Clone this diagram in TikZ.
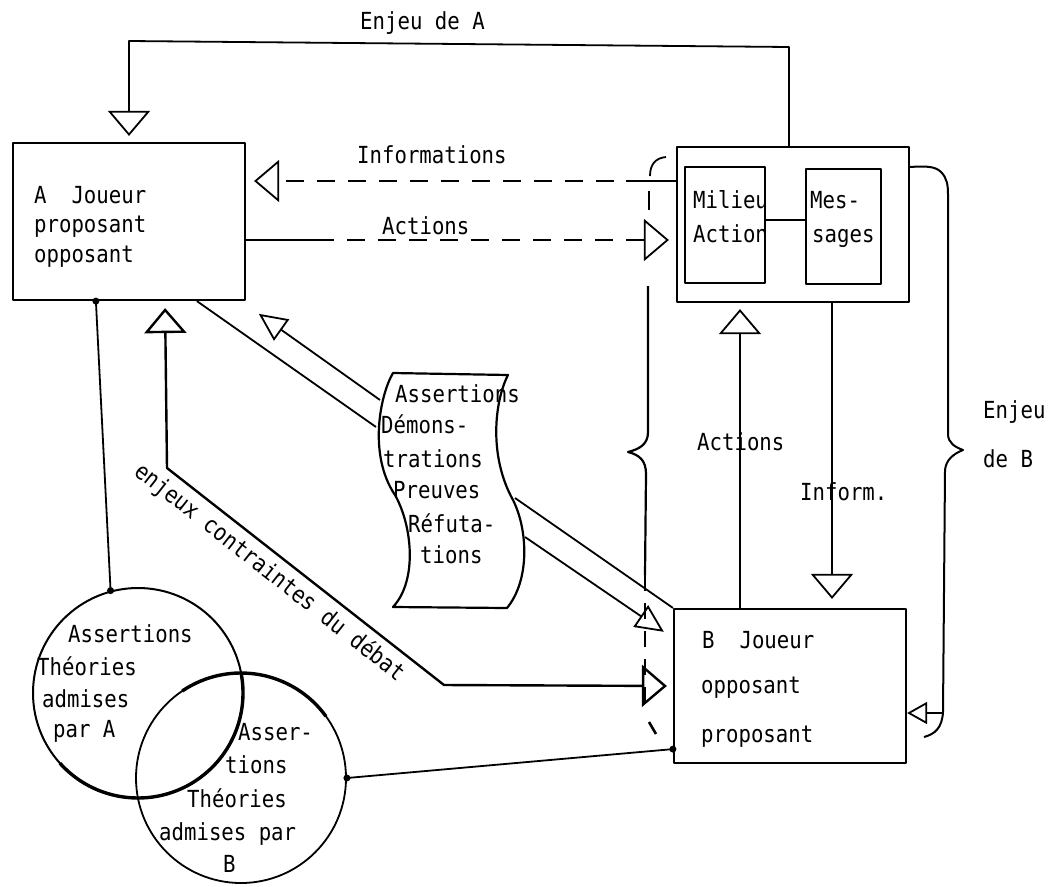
\documentclass[tikz,border=0pt]{standalone}
\usepackage{fontspec}
\newfontfamily\tw[FakeStretch=0.88]{DejaVu Sans Mono}
\usetikzlibrary{arrows.meta,calc}
\tikzset{
  txt/.style={font=\tw\fontsize{23.5}{28}\selectfont, inner sep=0pt, anchor=base west},
  box/.style={draw, line width=2.2pt, inner sep=0pt},
  ln/.style={line width=1.8pt},
  dsh/.style={dash pattern=on 18pt off 13pt},
  bigtip/.style={-{Triangle[open,length=25pt,width=42pt]}},
  smalltip/.style={-{Triangle[open,length=28pt,width=26pt]}},
  tinytip/.style={-{Triangle[open,length=20pt,width=22pt]}},
  dot/.style={circle, fill, inner sep=0pt, minimum size=7pt},
}
\begin{document}
\begin{tikzpicture}[x=1pt,y=-1pt,line join=round]
\fill[white] (0,0) rectangle (1056,886);
\useasboundingbox (0,0) rectangle (1056,886);

% boxes
\node[box, minimum width=232pt, minimum height=157pt] (A) at (129,221.5) {};
\node[box, minimum width=232pt, minimum height=155pt] (M) at (793,224.5) {};
\node[box, line width=2pt, minimum width=80pt, minimum height=116pt] (mil) at (725,225) {};
\node[box, line width=2pt, minimum width=75pt, minimum height=115pt] (mes) at (843.5,226.5) {};
\node[box, minimum width=232pt, minimum height=154pt] (B) at (790,686) {};
\node[draw, circle, line width=2pt, minimum size=210pt, inner sep=0pt] (cA) at (138,693) {};
\node[draw, circle, line width=1.8pt, minimum size=210pt, inner sep=0pt] (cB) at (241,778) {};

% thick lens arcs
\draw[line width=3.4pt] (cA.center) ++(138:105) arc[start angle=138, end angle=-11, radius=105];
\draw[line width=3.4pt] (cB.center) ++(-124:105) arc[start angle=-124, end angle=-36, radius=105];

% helper coordinates
\coordinate (xenA) at (789,0);
\coordinate (yinf) at (0,181);
\coordinate (yact) at (0,240);
\coordinate (ymm) at (0,220);
\coordinate (xact) at (740,0);
\coordinate (xinf) at (832,0);
\coordinate (xenj) at (165,0);
\coordinate (yenj) at (0,686);
\coordinate (yb1) at (0,638);
\coordinate (yrb) at (0,713);

% Enjeu de A
\draw[ln, bigtip, shorten >=6pt] (M.north -| xenA) -- (789,47) -- (129,41) -- (A.north);
\node[txt] (tEA) at (360,29) {Enjeu de A};

% Informations
\draw[ln, dsh, bigtip, shorten >=8pt] (M.west |- yinf) -- (A.east |- yinf);
\draw[ln] (M.west |- yinf) -- ++(-50,0);
\node[txt] (tInf) at (357,163) {Informations};

% Actions (A -> milieu)
\draw[ln] (A.east |- yact) -- ++(70,0) coordinate (actd);
\draw[ln, dsh, bigtip, shorten >=7pt] (actd) -- (M.west |- yact);
\node[txt] (tAct) at (382,234) {Actions};

% Milieu - Messages
\draw[line width=1.5pt] (mil.east |- ymm) -- (mes.west |- ymm);

% Actions (B -> milieu), Inform. (milieu -> B)
\draw[ln, bigtip, shorten >=6pt] (B.north -| xact) -- (M.south -| xact);
\draw[ln, bigtip, shorten >=9pt] (M.south -| xinf) -- (B.north -| xinf);
\node[txt] (tAct2) at (697,450) {Actions};
\node[txt] (tInf2) at (800,500) {Inform.};

% left brace
\draw[ln] (666,157) .. controls (655,158) and (650,165) .. (650,176);
\draw[ln] (649,191) -- (649,210);
\draw[line width=2.2pt] (648,286) -- (648,432) .. controls (648,444) and (640,449) .. (628,452) .. controls (640,455) and (646,461) .. (646,474) -- (645,575);
\draw[ln, dash pattern=on 16pt off 12pt] (645,575) -- (645,712);
\draw[line width=2.6pt] (649,722) -- (656,734);

% right brace
\draw[line width=2pt] (M.north east |- 0,167) .. controls (925,166) and (935,166) .. (941,172) .. controls (947,178) and (948,185) .. (948,195) -- (948,434) .. controls (948,443) and (955,447) .. (963,450) .. controls (953,454) and (946,460) .. (945,470) -- (943,712) .. controls (942,728) and (935,734) .. (924,737);
\draw[ln, tinytip] (943,713) -- (B.east |- yrb);
\node[txt] (tEB1) at (983,418) {Enjeu};
\node[txt] (tEB2) at (983,467) {de B};

% scroll
\draw[line width=2.2pt] (393,373) -- (508,375) .. controls (495,400) and (488,455) .. (513,500) .. controls (528,530) and (530,580) .. (507,608) -- (393,607) .. controls (418,580) and (412,525) .. (395,495) .. controls (368,455) and (380,395) .. cycle;
\coordinate (sAu) at (380,400);
\coordinate (sAl) at (376,427);
\coordinate (sBu) at (515,498);
\coordinate (sBl) at (525,537);
\node[txt] (s1) at (395,402) {Assertions};
\node[txt] (s2) at (381,433) {Démons-};
\node[txt] (s3) at (383,467) {trations};
\node[txt] (s4) at (393,498) {Preuves};
\node[txt] (s5) at (408,532) {Réfuta-};
\node[txt] (s6) at (420,563) {tions};

% A <-> scroll
\draw[ln, smalltip, shorten >=22pt] (sAu) -- (A);
\draw[ln] ($(A.south west)+(185,0)$) -- (sAl);
% scroll -> B
\draw[ln] (sBu) -- (B.north west);
\draw[ln, smalltip, shorten >=11pt] (sBl) -- (B.west |- yb1);

% enjeux contraintes du debat
\draw[line width=2.4pt, {Triangle[open,length=25pt,width=42pt]}-{Triangle[open,length=25pt,width=42pt]}, shorten <=7pt, shorten >=6pt]
  (A.south -| xenj) -- (167,468) -- (444,685) -- (B.west |- yenj);
\node[font=\tw\fontsize{23.5}{28}\selectfont, inner sep=0pt, anchor=base, rotate=-38.2] (tenj) at (265,578) {enjeux contraintes du débat};

% links to theories
\draw[ln] ($(A.south west)+(84,0)$) node[dot] (dA1) {} -- (cA.105) node[dot] (dA2) {};
\draw[ln] (cB.east) node[dot] (dB1) {} -- ($(B.south west)+(0,-15)$) node[dot] (dB2) {};

% A text
\node[txt] (tA1) at (34,203) {A\ \ Joueur};
\node[txt] (tA2) at (34,232) {proposant};
\node[txt] (tA3) at (34,262) {opposant};
% Milieu text
\node[txt] (tM1) at (693,208) {Milieu};
\node[txt] (tM2) at (693,242) {Action};
\node[txt] (tS1) at (810,208) {Mes-};
\node[txt] (tS2) at (812,242) {sages};
% B text
\node[txt] (tB1) at (702,648) {B\ \ Joueur};
\node[txt] (tB2) at (701,693) {opposant};
\node[txt] (tB3) at (701,742) {proposant};
% circle A text
\node[txt] (cA1) at (68,642) {Assertions};
\node[txt] (cA2) at (37,675) {Théories};
\node[txt] (cA3) at (42,707) {admises};
\node[txt] (cA4) at (53,737) {par A};
% circle B text
\node[txt] (cB1) at (238,740) {Asser-};
\node[txt] (cB2) at (225,773) {tions};
\node[txt] (cB3) at (187,807) {Théories};
\node[txt] (cB4) at (159,840) {admises par};
\node[txt] (cB5) at (223,872) {B};
\end{tikzpicture}
\end{document}
